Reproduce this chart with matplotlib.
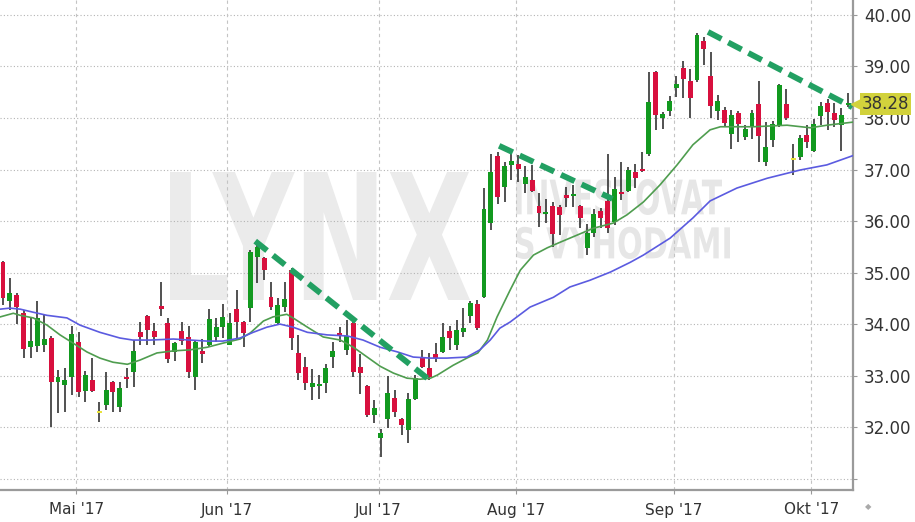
import matplotlib.pyplot as plt
import numpy as np
import pandas as pd
from matplotlib.font_manager import FontProperties
from matplotlib.patches import PathPatch
from matplotlib.textpath import TextPath
from matplotlib.transforms import Affine2D, blended_transform_factory

# trading days (US calendar), 13 Apr 2017 .. 9 Oct 2017
holidays = ["2017-04-14", "2017-05-29", "2017-07-04", "2017-09-04"]
dates = pd.bdate_range("2017-04-13", periods=124, freq="C", holidays=holidays)
month_names = ["Mai", "Jun", "Jul", "Aug", "Sep", "Okt"]

opens = [
    35.20, 34.45, 34.56, 34.21, 33.55, 33.57, 33.59, 33.73, 32.87, 32.82,
    32.97, 33.65, 32.70, 32.91, 32.27, 32.43, 32.87, 32.39, 32.97, 33.07,
    33.84, 34.16, 33.86, 34.35, 34.02, 33.46, 33.86, 33.75, 32.97, 33.48,
    33.59, 33.75, 33.94, 33.59, 34.29, 34.04, 34.31, 35.30, 35.28, 34.52,
    34.02, 34.33, 35.05, 33.44, 33.17, 32.78, 32.80, 32.85, 33.36, 33.83,
    33.50, 34.02, 33.17, 32.80, 32.23, 31.79, 32.16, 32.56, 32.16, 31.94,
    32.54, 33.34, 33.15, 33.42, 33.46, 33.86, 33.59, 33.84, 34.16, 34.39,
    34.52, 35.96, 37.26, 36.66, 37.09, 37.11, 36.72, 36.80, 36.29, 36.14,
    36.29, 36.27, 36.50, 36.49, 36.29, 35.48, 35.77, 36.19, 36.39, 35.98,
    36.56, 36.58, 36.95, 37.01, 37.30, 38.89, 38.00, 38.14, 38.58, 38.97,
    38.72, 38.74, 39.50, 38.82, 38.14, 38.16, 37.69, 38.10, 37.63, 37.83,
    38.27, 37.15, 37.57, 37.86, 38.27, 37.20, 37.24, 37.67, 37.36, 38.04,
    38.29, 38.10, 37.86, 38.26,
]
highs = [
    35.22, 34.89, 34.60, 34.27, 34.12, 34.45, 34.17, 33.77, 33.11, 33.15,
    33.96, 33.84, 33.09, 33.34, 32.49, 33.07, 32.89, 32.87, 33.15, 33.69,
    34.04, 34.17, 34.02, 34.82, 34.12, 33.65, 34.04, 33.96, 33.67, 33.71,
    34.29, 34.12, 34.39, 34.21, 34.66, 34.06, 35.44, 35.53, 35.30, 34.82,
    34.50, 34.82, 35.09, 33.79, 33.36, 33.13, 33.01, 33.22, 33.65, 33.94,
    34.08, 34.08, 33.42, 32.82, 32.52, 31.96, 32.99, 32.72, 32.17, 32.66,
    33.01, 33.50, 33.44, 33.63, 34.02, 33.96, 34.08, 34.31, 34.45, 34.47,
    36.64, 37.30, 37.34, 37.15, 37.34, 37.28, 37.07, 37.09, 36.54, 36.43,
    36.37, 36.31, 36.66, 36.70, 36.31, 35.94, 36.23, 36.25, 37.30, 36.85,
    37.15, 37.05, 37.11, 37.34, 38.89, 38.91, 38.12, 38.43, 38.82, 39.11,
    38.95, 39.65, 39.57, 39.28, 38.45, 38.21, 38.16, 38.14, 37.86, 38.16,
    38.72, 37.92, 37.94, 38.66, 38.56, 37.50, 37.67, 37.86, 37.98, 38.31,
    38.37, 38.29, 38.20, 38.49,
]
lows = [
    34.37, 34.27, 34.00, 33.34, 33.34, 33.46, 33.46, 32.00, 32.27, 32.29,
    32.62, 32.58, 32.49, 32.68, 32.10, 32.33, 32.29, 32.29, 32.76, 32.78,
    33.59, 33.59, 33.59, 34.16, 33.24, 33.28, 33.59, 32.95, 32.72, 33.24,
    33.55, 33.65, 33.73, 33.59, 33.69, 33.55, 34.04, 34.80, 34.85, 34.27,
    33.98, 34.23, 33.50, 32.91, 32.72, 32.52, 32.54, 32.66, 33.15, 33.65,
    33.40, 32.97, 32.64, 32.19, 32.08, 31.42, 31.98, 32.19, 31.84, 31.69,
    32.52, 33.15, 32.91, 33.26, 33.44, 33.50, 33.50, 33.75, 34.02, 33.88,
    34.50, 35.83, 36.33, 36.37, 36.80, 36.76, 36.54, 36.56, 35.88, 35.96,
    35.50, 35.73, 36.27, 36.27, 35.86, 35.34, 35.69, 35.86, 35.77, 35.92,
    36.41, 36.56, 36.64, 36.95, 37.26, 37.77, 37.79, 38.04, 38.41, 38.39,
    38.00, 38.70, 39.03, 38.00, 37.96, 37.83, 37.40, 37.53, 37.57, 37.59,
    37.15, 37.07, 37.44, 37.83, 37.96, 36.89, 37.18, 37.42, 37.34, 37.86,
    37.77, 37.83, 37.36, 38.21,
]
closes = [
    34.50, 34.60, 34.33, 33.51, 33.67, 34.12, 33.71, 32.87, 32.97, 32.91,
    33.81, 32.68, 33.01, 32.70, 32.27, 32.72, 32.68, 32.76, 32.93, 33.48,
    33.75, 33.88, 33.75, 34.29, 33.32, 33.63, 33.67, 33.07, 33.65, 33.42,
    34.10, 33.94, 34.14, 34.02, 34.04, 33.83, 35.40, 35.50, 35.05, 34.33,
    34.37, 34.49, 33.73, 33.05, 32.85, 32.85, 32.83, 33.15, 33.48, 33.79,
    33.77, 33.07, 33.05, 32.23, 32.37, 31.88, 32.66, 32.29, 32.04, 32.54,
    32.95, 33.17, 32.97, 33.34, 33.75, 33.73, 33.88, 33.92, 34.41, 33.92,
    36.23, 36.95, 36.47, 37.07, 37.17, 37.01, 36.85, 36.58, 36.16, 36.17,
    35.75, 36.12, 36.45, 36.52, 36.06, 35.77, 36.14, 36.06, 35.86, 36.62,
    36.52, 36.99, 36.83, 36.97, 38.31, 38.06, 38.08, 38.33, 38.66, 38.76,
    38.39, 39.61, 39.34, 38.23, 38.33, 37.90, 38.06, 37.88, 37.79, 38.10,
    37.65, 37.44, 37.88, 38.64, 38.00, 37.18, 37.61, 37.53, 37.88, 38.23,
    38.12, 37.96, 38.06, 38.28,
]
marked_days = [14, 115]  # yellow markers

# moving averages (candle index, price)
ma_fast_x = [-0.4, 1.5, 2.5, 4.4, 6.4, 8.3, 10.2, 12.2, 14.1, 16.0, 18.1, 19.9,
             22.4, 24.8, 27.2, 29.7, 32.0, 34.5, 36.0, 37.9, 39.3, 41.3, 42.2,
             44.3, 46.6, 49.1, 51.0, 53.0, 54.9, 56.8, 58.8, 60.7, 62.2, 63.2,
             65.5, 67.5, 69.1, 70.5, 71.9, 73.8, 75.3, 77.2, 79.2, 81.1, 83.6,
             85.9, 88.8, 90.8, 93.2, 95.6, 98.1, 100.4, 102.9, 104.4, 109.2,
             114.1, 117.5, 119.9, 123.7]
ma_fast_y = [34.14, 34.21, 34.17, 34.12, 33.98, 33.79, 33.63, 33.46, 33.34,
             33.26, 33.22, 33.30, 33.44, 33.48, 33.50, 33.55, 33.63, 33.71,
             33.83, 34.06, 34.14, 34.19, 34.12, 33.94, 33.75, 33.69, 33.55,
             33.36, 33.18, 33.05, 32.95, 32.93, 32.95, 33.01, 33.20, 33.34,
             33.44, 33.69, 34.14, 34.66, 35.05, 35.34, 35.48, 35.59, 35.73,
             35.86, 35.96, 36.12, 36.37, 36.70, 37.09, 37.48, 37.77, 37.83,
             37.83, 37.86, 37.81, 37.86, 37.92]
ma_slow_x = [-0.4, 1.0, 2.5, 4.4, 6.4, 9.3, 11.2, 14.1, 17.0, 18.9, 21.4, 24.8,
             29.7, 32.0, 34.5, 36.4, 38.4, 40.3, 42.2, 44.3, 47.2, 50.1, 52.4,
             54.9, 57.4, 59.7, 62.2, 64.6, 67.5, 69.4, 70.9, 72.3, 73.8, 76.7,
             80.1, 82.5, 85.4, 88.4, 91.3, 93.2, 97.1, 100.4, 102.9, 106.8,
             111.2, 116.0, 119.9, 123.7]
ma_slow_y = [34.29, 34.31, 34.29, 34.23, 34.17, 34.12, 33.98, 33.84, 33.73,
             33.69, 33.69, 33.71, 33.67, 33.67, 33.73, 33.84, 33.94, 34.00,
             33.94, 33.84, 33.79, 33.77, 33.69, 33.55, 33.46, 33.36, 33.34,
             33.34, 33.36, 33.50, 33.69, 33.92, 34.04, 34.33, 34.52, 34.72,
             34.85, 35.01, 35.20, 35.34, 35.67, 36.06, 36.39, 36.64, 36.83,
             36.99, 37.09, 37.27]

# drawn trend lines: (start index, start price, end index, end price)
trend_lines = [
    (36.7, 35.61, 62.3, 32.89),
    (72.2, 37.46, 88.7, 36.43),
    (102.6, 39.67, 123.6, 38.21),
]
last_price = 38.28

W, H = 915, 522
AX_W, AX_H = 853, 490
fig = plt.figure(figsize=(W / 100, H / 100), dpi=100)
ax = fig.add_axes([0, 1 - AX_H / H, AX_W / W, AX_H / H])

x = np.arange(len(dates))
o = np.array(opens)
c = np.array(closes)
up = c >= o
body_lo = np.minimum(o, c)
body_h = np.maximum(np.abs(c - o), 0.04)
colors = np.where(up, "#12991f", "#d8103e").astype(object)
for i in marked_days:
    colors[i] = "#e8e23a"

# watermark
def fit_text(text, box, color, weight="bold"):
    tp = TextPath((0, 0), text, size=100,
                  prop=FontProperties(family="DejaVu Sans", weight=weight))
    ext = tp.get_extents()
    x0, y0, x1, y1 = box
    tr = (Affine2D().translate(-ext.x0, -ext.y0)
          .scale((x1 - x0) / ext.width, (y1 - y0) / ext.height)
          .translate(x0, y0))
    patch = PathPatch(tr.transform_path(tp), fc=color, ec="none",
                      transform=ax.transAxes, zorder=0)
    ax.add_patch(patch)


def px_box(l, t, r, b):
    return (l / AX_W, 1 - b / AX_H, r / AX_W, 1 - t / AX_H)


fit_text("LYNX", px_box(170, 172, 470, 300), "#ebebeb")
fit_text("INVESTOVAT", px_box(516, 179, 722, 215), "#e6e6e6")
fit_text("S VÝHODAMI", px_box(516, 219, 730, 259), "#e6e6e6")

# grid
month_start = [int(np.argmax(dates.month == m)) for m in range(5, 11)]
month_ticks = [i - 0.35 for i in month_start]
for v in range(31, 41):
    ax.axhline(v, color="#b4b4b4", lw=0.8, ls=(0, (1, 2)), zorder=1)
for t in month_ticks:
    ax.axvline(t, color="#c4c4c4", lw=0.8, ls=(0, (3, 3)), zorder=1)

# candles
ax.vlines(x, lows, highs, color="#333333", lw=1.2, zorder=2)
ax.bar(x, body_h, bottom=body_lo, width=0.72, color=list(colors),
       edgecolor="none", zorder=3)

# moving averages
ax.plot(ma_fast_x, ma_fast_y, color="#4f9d4f", lw=1.2, zorder=4)
ax.plot(ma_slow_x, ma_slow_y, color="#5b5be0", lw=1.2, zorder=4)

# trend lines
for x0, y0, x1, y1 in trend_lines:
    ax.plot([x0, x1], [y0, y1], color="#22a062", lw=4.2,
            ls=(0, (2.6, 1.3)), solid_capstyle="butt", zorder=5)

ax.set_xlim(-0.44, 123.7)
ax.set_ylim(30.78, 40.29)

ax.set_xticks(month_ticks)
ax.set_xticklabels([f"{m} '17" for m in month_names])
yt = list(range(31, 41))
ax.set_yticks(yt)
ax.set_yticklabels(["" if v == 31 else f"{v:.2f}" for v in yt])
ax.yaxis.tick_right()
ax.tick_params(axis="y", length=3, width=0.8, color="#999999", pad=5,
               labelsize=12, labelcolor="#333333")
ax.tick_params(axis="x", length=3, width=0.8, color="#999999", pad=6,
               labelsize=11, labelcolor="#333333")

for s in ("top", "left"):
    ax.spines[s].set_visible(False)
for s in ("bottom", "right"):
    ax.spines[s].set_color("#9a9a9a")
    ax.spines[s].set_linewidth(1.6)

# last price tag
tr = blended_transform_factory(ax.transAxes, ax.transData)
ax.plot([1 + 4 / AX_W], [last_price], marker="<", ms=9, color="#d2d23c",
        transform=tr, clip_on=False, zorder=6)
ax.text(1 + 9 / AX_W, last_price, f"{last_price:.2f}", transform=tr,
        ha="left", va="center", fontsize=12, color="#333333", zorder=7,
        bbox=dict(boxstyle="square,pad=0.12", fc="#d2d23c", ec="none"))

# small navigation marker
fig.text(868 / W, 1 - 507 / H, "◆", fontsize=6, color="#aaaaaa",
         ha="center", va="center")

fig.savefig("out.png", dpi=100)
